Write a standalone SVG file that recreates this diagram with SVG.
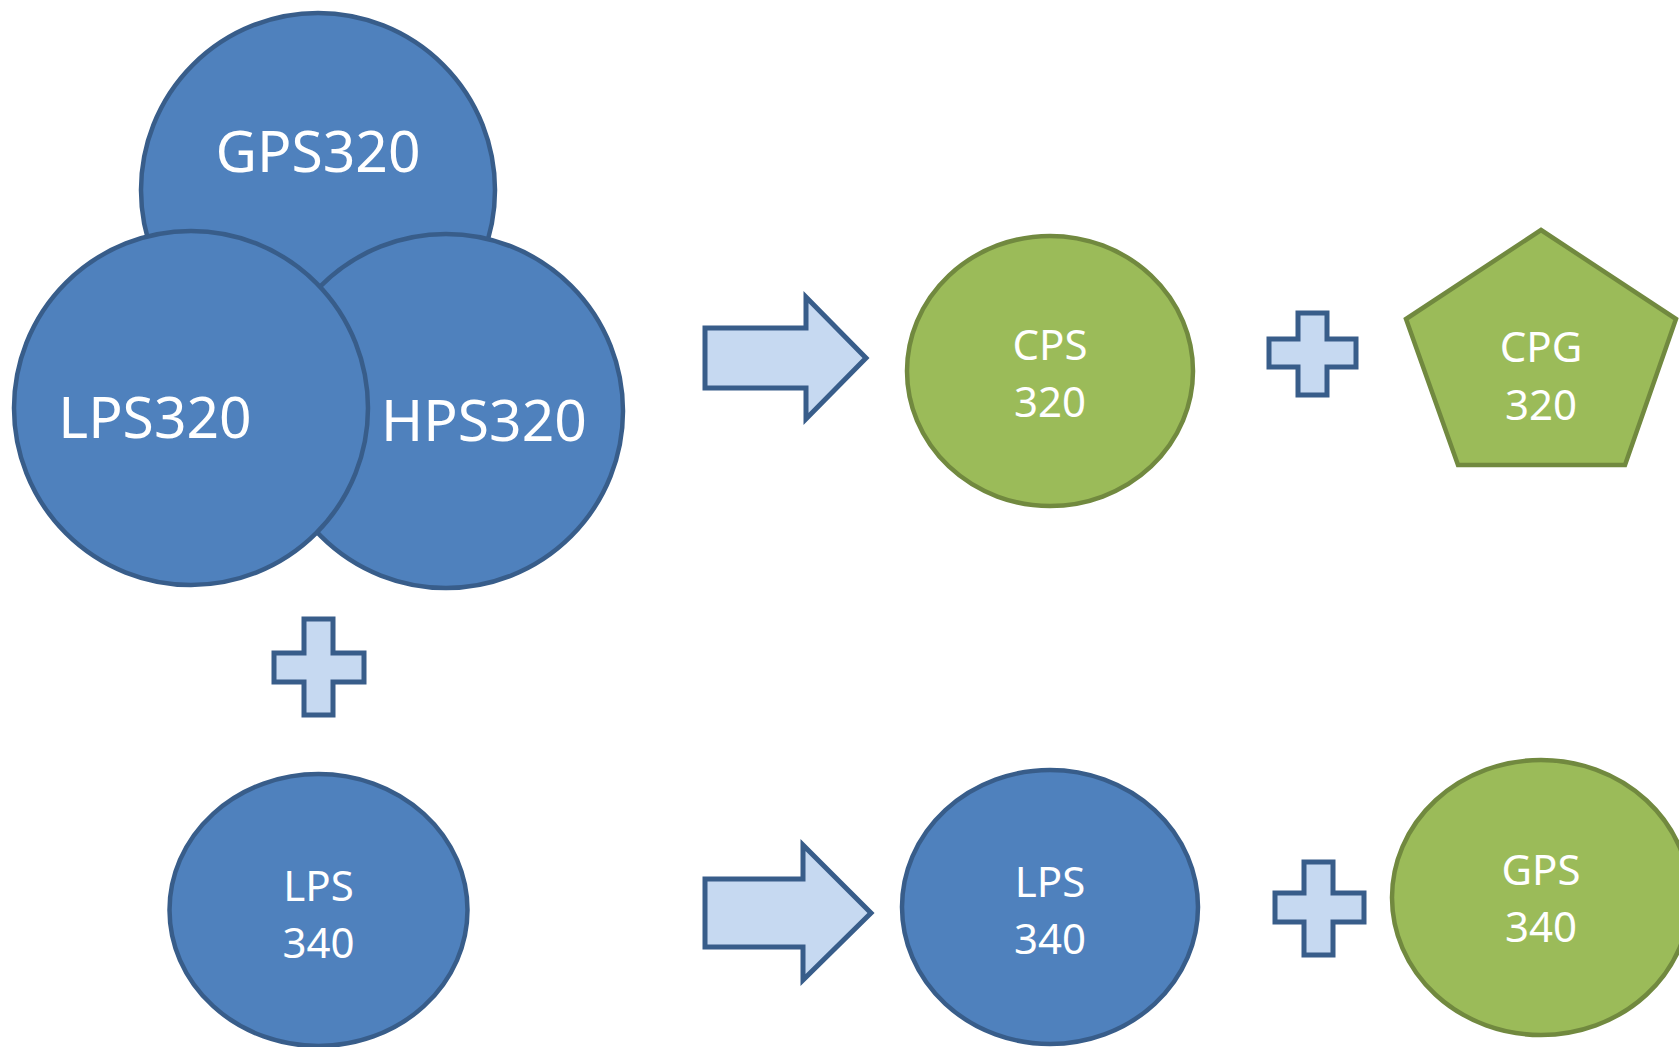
<svg xmlns="http://www.w3.org/2000/svg" width="1679" height="1047" viewBox="0 0 1679 1047">
<style>
.blue{fill:#4F81BD;stroke:#385D8A;stroke-width:4.5}
.green{fill:#9BBB59;stroke:#71893F;stroke-width:4.5}
.op{fill:#C6D9F1;stroke:#385D8A;stroke-width:5;stroke-linejoin:miter}
.big{font-family:"Noto Sans","Liberation Sans",sans-serif;font-size:57px;fill:#fff;text-anchor:middle}
.sm{font-family:"Noto Sans","Liberation Sans",sans-serif;font-size:42px;fill:#fff;text-anchor:middle}
</style>
<rect width="1679" height="1047" fill="#fff"/>
<g id="gps320"><circle class="blue" cx="318" cy="190" r="177"/><text class="big" x="318" y="172">GPS320</text></g>
<g id="hps320"><circle class="blue" cx="446" cy="411" r="177"/><text class="big" x="484" y="441">HPS320</text></g>
<g id="lps320"><circle class="blue" cx="191" cy="408" r="177"/><text class="big" x="155" y="438">LPS320</text></g>
<g id="cps320"><ellipse class="green" cx="1050" cy="371" rx="143" ry="135"/><text class="sm" x="1050" y="360">CPS</text><text class="sm" x="1050" y="417">320</text></g>
<g id="cpg320"><polygon class="green" points="1541,230 1676,319 1625,465 1458,465 1406,319"/><text class="sm" x="1541" y="362">CPG</text><text class="sm" x="1541" y="420">320</text></g>
<g id="lps340a"><ellipse class="blue" cx="318.5" cy="910" rx="149" ry="136"/><text class="sm" x="318.5" y="901">LPS</text><text class="sm" x="318.5" y="958">340</text></g>
<g id="lps340b"><ellipse class="blue" cx="1050" cy="907" rx="148" ry="137"/><text class="sm" x="1050" y="897">LPS</text><text class="sm" x="1050" y="954">340</text></g>
<g id="gps340"><ellipse class="green" cx="1541" cy="897.5" rx="149" ry="137.5"/><text class="sm" x="1541" y="885">GPS</text><text class="sm" x="1541" y="942">340</text></g>
<g id="connectors">
<polygon class="op" points="705,328 806,328 806,297 866,358 806,419 806,388 705,388"/>
<polygon class="op" points="705,879 803,879 803,845 871,913 803,980 803,947 705,947"/>
<polygon class="op" points="1298,313 1327,313 1327,339 1356,339 1356,367 1327,367 1327,395 1298,395 1298,367 1269,367 1269,339 1298,339"/>
<polygon class="op" points="304,619 333,619 333,653 364,653 364,682 333,682 333,715 304,715 304,682 274,682 274,653 304,653"/>
<polygon class="op" points="1304,862 1333,862 1333,893 1364,893 1364,922 1333,922 1333,955 1304,955 1304,922 1275,922 1275,893 1304,893"/>
</g>
</svg>
